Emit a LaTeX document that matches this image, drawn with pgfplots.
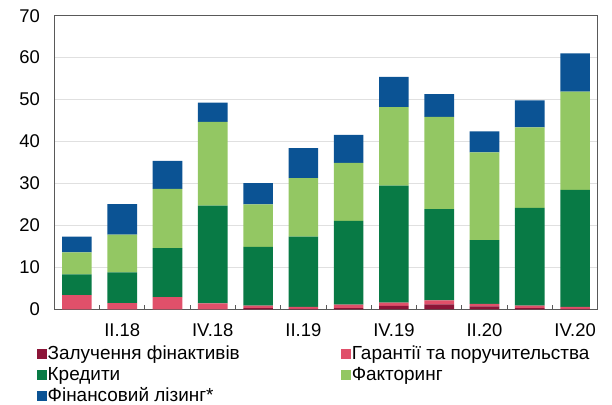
\documentclass[border=0pt]{standalone}
\usepackage{fontspec}
\setmainfont{Liberation Sans}
\usepackage{pgfplots}
\usepackage{pgfplotstable}
\pgfplotsset{compat=1.18}
\definecolor{cDR}{HTML}{8C1538}
\definecolor{cPK}{HTML}{E0506A}
\definecolor{cDG}{HTML}{087A45}
\definecolor{cLG}{HTML}{93C763}
\definecolor{cBL}{HTML}{0B5394}
\pgfplotstableread{
x  dr  pk  dg    lg    bl
0  0.0 3.4 4.9   5.3   3.7
1  0.0 1.5 7.3   9.0   7.3
2  0.0 2.9 11.7  14.1  6.7
3  0.0 1.4 23.3  20.0  4.6
4  0.3 0.6 14.0  10.1  5.1
5  0.1 0.5 16.7  14.0  7.1
6  0.3 0.8 20.0  13.8  6.7
7  0.8 0.8 27.9  18.7  7.2
8  1.2 0.9 21.8  22.0  5.4
9  0.7 0.6 15.2  20.9  5.0
10 0.3 0.6 23.3  19.2  6.4
11 0.1 0.5 27.9  23.4  9.1
}\datatable
\begin{document}
\fontsize{18.5}{21}\selectfont
\begin{tikzpicture}
\useasboundingbox (-54.3bp,-95.7bp) rectangle (557.7bp,309.3bp);
\begin{axis}[
  scale only axis,
  width=543.4bp, height=293.6bp,
  ybar stacked,
  bar width=29.6bp,
  xmin=-0.5, xmax=11.5,
  ymin=0, ymax=70,
  ytick={0,10,...,70},
  xtick={1,3,5,7,9,11},
  xticklabels={II.18,IV.18,II.19,IV.19,II.20,IV.20},
  minor xtick={0.5,1.5,...,10.5},
  major x tick style={draw=none},
  minor tick length=4bp,
  major tick length=0pt,
  tick align=inside,
  xtick pos=bottom,
  ytick pos=left,
  y tick style={draw=none},
  ymajorgrids,
  major grid style={draw=black!12, line width=0.8pt},
  axis line style={draw=black!65, line width=1pt},
  minor x tick style={draw=black!65, line width=1pt},
  /pgf/number format/assume math mode=true,
  tick label style={font=\fontsize{18.5}{21}\selectfont},
  yticklabel style={xshift=-8bp},
  xticklabel style={yshift=-8bp},
  legend columns=2,
  legend style={
    at={(-17.3bp,-35.5bp)}, anchor=north west,
    draw=none, fill=none, inner sep=0pt,
    font=\fontsize{19}{21}\selectfont,
    row sep=4bp,
    nodes={inner sep=0.5bp},
    /tikz/column 2/.style={column sep=101bp},
  },
  legend cell align=left,
  legend image code/.code={\fill[#1] (0bp,-5bp) rectangle (10bp,5bp);},
]
\addplot[fill=cDR, draw=none] table[x=x,y=dr]{\datatable};
\addplot[fill=cPK, draw=none] table[x=x,y=pk]{\datatable};
\addplot[fill=cDG, draw=none] table[x=x,y=dg]{\datatable};
\addplot[fill=cLG, draw=none] table[x=x,y=lg]{\datatable};
\addplot[fill=cBL, draw=none] table[x=x,y=bl]{\datatable};
\legend{Залучення фінактивів, Гарантії та поручительства, Кредити, Факторинг, Фінансовий лізинг*}
\end{axis}
\end{tikzpicture}
\end{document}
